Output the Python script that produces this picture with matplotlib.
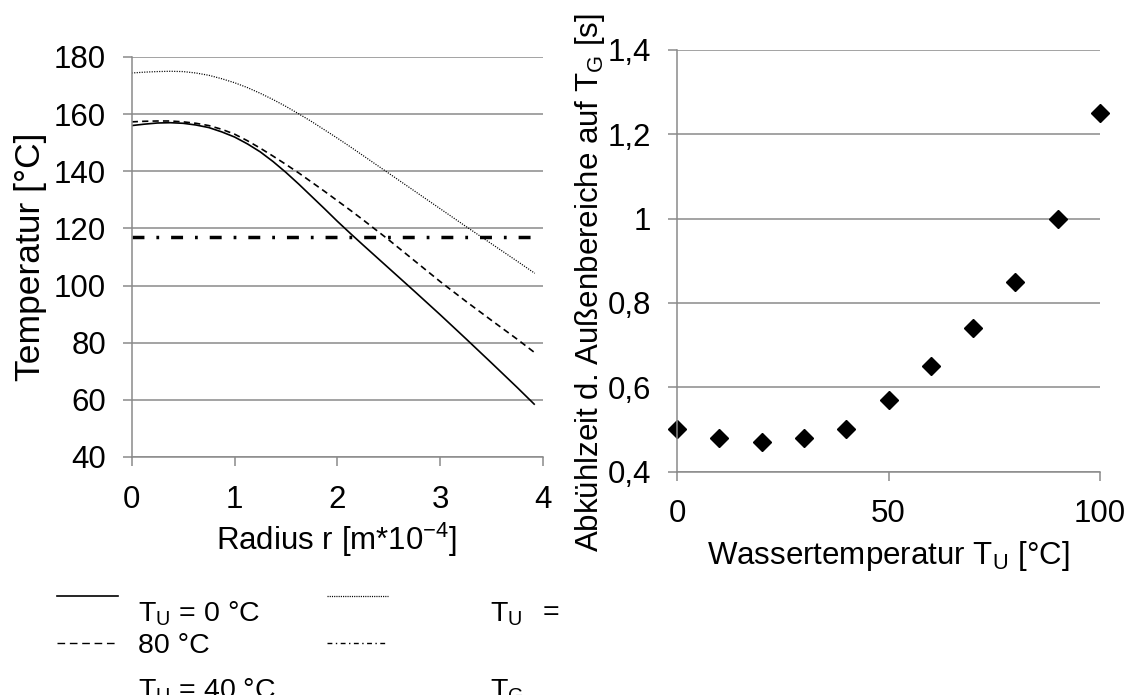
import matplotlib
matplotlib.use("Agg")
import matplotlib.pyplot as plt
from matplotlib.lines import Line2D

plt.rcParams['font.family'] = ['Liberation Sans', 'DejaVu Sans']
plt.rcParams['lines.scale_dashes'] = False

# ---------------- data ----------------
radius = [0, 0.125, 0.25, 0.375, 0.5, 0.625, 0.75, 0.875, 1.0, 1.125, 1.25, 1.375, 1.5,
          1.625, 1.75, 1.875, 2.0, 2.125, 2.25, 2.5, 2.75, 3.0, 3.25, 3.5, 3.75, 3.92]
temp_tu0 = [156.0, 156.5, 156.9, 157.0, 156.8, 156.2, 155.3, 153.8, 152.0, 149.6, 146.8, 143.4, 139.6,
            135.5, 131.2, 126.9, 122.5, 118.3, 114.2, 106.1, 98.0, 89.8, 81.4, 72.9, 64.3, 58.3]
temp_tu40 = [157.3, 157.5, 157.6, 157.6, 157.3, 156.8, 156.0, 154.7, 153.0, 150.7, 148.1, 145.3, 142.4,
             139.4, 136.2, 133.0, 129.7, 126.4, 123.0, 116.0, 108.7, 101.4, 94.5, 87.8, 81.2, 76.5]
temp_tu80 = [174.4, 174.7, 174.9, 175.0, 174.9, 174.4, 173.6, 172.4, 171.0, 169.3, 167.3, 165.1, 162.7,
             160.1, 157.4, 154.5, 151.6, 148.6, 145.5, 139.3, 133.1, 126.9, 120.7, 114.6, 108.5, 104.3]
temp_tg = 117
r_max_curve = 3.92

water_temp = [0, 10, 20, 30, 40, 50, 60, 70, 80, 90, 100]
cool_time = [0.50, 0.48, 0.47, 0.48, 0.50, 0.57, 0.65, 0.74, 0.85, 1.00, 1.25]

left_yticks = [40, 60, 80, 100, 120, 140, 160, 180]
left_xticks = [0, 1, 2, 3, 4]
right_yticks = [0.4, 0.6, 0.8, 1.0, 1.2, 1.4]
right_yticklabels = ['0,4', '0,6', '0,8', '1', '1,2', '1,4']
right_xticks = [0, 50, 100]

W, H = 1127, 695
fig = plt.figure(figsize=(W / 100, H / 100), dpi=100)

def fx(px):
    return px / W

def fy(py):
    return 1 - py / H

grid_col = '#8a8a8a'
fs = 22.5

def style(ax):
    for s in ['top', 'right']:
        ax.spines[s].set_visible(False)
    for s in ['left', 'bottom']:
        ax.spines[s].set_color(grid_col)
        ax.spines[s].set_linewidth(1.1)
    ax.tick_params(axis='both', direction='out', length=6.5, width=1.1, color=grid_col,
                   labelsize=fs)
    ax.tick_params(axis='x', pad=13.5)
    ax.tick_params(axis='y', pad=12)
    ax.yaxis.grid(True, color=grid_col, linewidth=1.1)
    ax.set_axisbelow(True)

# ---------------- left chart ----------------
ax1 = fig.add_axes([fx(131.7), fy(457), fx(543) - fx(131.7), fy(57) - fy(457)])
style(ax1)
ax1.plot(radius, temp_tu0, color='black', lw=1.2, solid_capstyle='butt')
ax1.plot(radius, temp_tu40, color='black', lw=1.2, dashes=(4.5, 3.0))
ax1.plot(radius, temp_tu80, color='black', lw=0.9, dashes=(0.8, 1.0))
ax1.hlines(temp_tg, 0, r_max_curve, color='black', lw=2.5, linestyles=[(0, (8.6, 8.6, 2.0, 8.6))])
ax1.set_xlim(0, 4)
ax1.set_ylim(40, 180)
ax1.set_xticks(left_xticks)
ax1.set_yticks(left_yticks)
fig.text(fx(337), fy(550), r'Radius r [m*10$^{\mathregular{-4}}$]', fontsize=fs,
         ha='center', va='baseline')
fig.text(fx(31), fy(257), 'Temperatur [°C]', fontsize=25.5, rotation=90,
         ha='center', va='center')

# ---------------- right chart ----------------
ax2 = fig.add_axes([fx(677), fy(471.5), fx(1100) - fx(677), fy(50) - fy(471.5)])
style(ax2)
ax2.plot(water_temp, cool_time, linestyle='none', marker='D', markersize=9.3,
         color='black', clip_on=False)
ax2.set_xlim(0, 100)
ax2.set_ylim(0.4, 1.4)
ax2.set_xticks(right_xticks)
ax2.set_yticks(right_yticks)
ax2.set_yticklabels(right_yticklabels)
fig.text(fx(888), fy(564), r'Wassertemperatur T$_{\mathregular{U}}$ [°C]', fontsize=fs,
         ha='center', va='baseline')
fig.text(fx(590), fy(283), r'Abkühlzeit d. Außenbereiche auf T$_{\mathregular{G}}$ [s]',
         rotation=90, ha='center', va='center', fontsize=fs)

# ---------------- legend (below left chart) ----------------
lfs = 20.5
def leg_line(x0, x1, y, **kw):
    fig.add_artist(Line2D([fx(x0), fx(x1)], [fy(y), fy(y)], transform=fig.transFigure,
                          color='black', **kw))

leg_line(57, 118, 596, lw=1.2)
leg_line(57, 115, 643, lw=1.0, dashes=(5.5, 3.4))
leg_line(327, 388, 596, lw=0.9, dashes=(0.8, 0.8))
leg_line(327, 388, 643, lw=1.0, dashes=(3.5, 2.5, 1.0, 2.5))

fig.text(fx(138), fy(621.7), r'T$_{\mathregular{U}}$ = 0 °C', fontsize=lfs, va='baseline', ha='left')
fig.text(fx(138), fy(652.7), '80 °C', fontsize=lfs, va='baseline', ha='left')
fig.text(fx(138), fy(698.5), r'T$_{\mathregular{U}}$ = 40 °C', fontsize=lfs, va='baseline', ha='left')
fig.text(fx(490), fy(621.7), r'T$_{\mathregular{U}}$', fontsize=lfs, va='baseline', ha='left')
fig.text(fx(543), fy(619.7), '=', fontsize=lfs, va='baseline', ha='left')
fig.text(fx(490), fy(698.5), r'T$_{\mathregular{G}}$', fontsize=lfs, va='baseline', ha='left')

fig.savefig('out.png', dpi=100)
